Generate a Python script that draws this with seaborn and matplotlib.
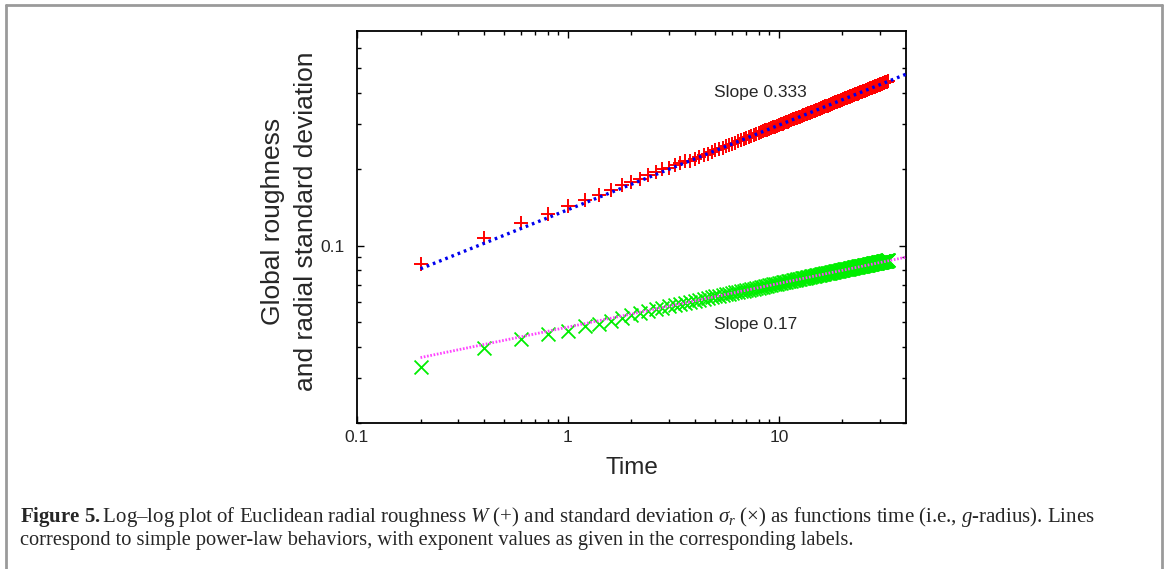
import matplotlib
matplotlib.use("Agg")
import matplotlib.pyplot as plt
import seaborn as sns
import numpy as np
import pandas as pd
from matplotlib.ticker import FixedLocator, NullFormatter
from matplotlib.lines import Line2D

# ---------------- data ----------------
time = [
    0.2, 0.4, 0.6, 0.8, 1.0, 1.2, 1.4, 1.6, 1.8, 2.0,
    2.2, 2.4, 2.6, 2.8, 3.0, 3.2, 3.4, 3.6, 3.8, 4.0,
    4.2, 4.4, 4.6, 4.8, 5.0, 5.2, 5.4, 5.6, 5.8, 6.0,
    6.2, 6.4, 6.6, 6.8, 7.0, 7.2, 7.4, 7.6, 7.8, 8.0,
    8.2, 8.4, 8.6, 8.8, 9.0, 9.2, 9.4, 9.6, 9.8, 10.0,
    10.2, 10.4, 10.6, 10.8, 11.0, 11.2, 11.4, 11.6, 11.8, 12.0,
    12.2, 12.4, 12.6, 12.8, 13.0, 13.2, 13.4, 13.6, 13.8, 14.0,
    14.2, 14.4, 14.6, 14.8, 15.0, 15.2, 15.4, 15.6, 15.8, 16.0,
    16.2, 16.4, 16.6, 16.8, 17.0, 17.2, 17.4, 17.6, 17.8, 18.0,
    18.2, 18.4, 18.6, 18.8, 19.0, 19.2, 19.4, 19.6, 19.8, 20.0,
    20.2, 20.4, 20.6, 20.8, 21.0, 21.2, 21.4, 21.6, 21.8, 22.0,
    22.2, 22.4, 22.6, 22.8, 23.0, 23.2, 23.4, 23.6, 23.8, 24.0,
    24.2, 24.4, 24.6, 24.8, 25.0, 25.2, 25.4, 25.6, 25.8, 26.0,
    26.2, 26.4, 26.6, 26.8, 27.0, 27.2, 27.4, 27.6, 27.8, 28.0,
    28.2, 28.4, 28.6, 28.8, 29.0, 29.2, 29.4, 29.6, 29.8, 30.0,
    30.2, 30.4, 30.6, 30.8, 31.0, 31.2, 31.4, 31.6, 31.8, 32.0,
    32.2, 32.4, 32.6, 32.8, 33.0,
]

# global roughness W (+)
roughness = [
    0.0847, 0.1072, 0.1225, 0.1336, 0.1429, 0.1514, 0.1585, 0.1648, 0.1725, 0.1778,
    0.1833, 0.1889, 0.1946, 0.1995, 0.2026, 0.2070, 0.2120, 0.2150,
    0.216, 0.220, 0.223, 0.227, 0.230, 0.234, 0.237, 0.240, 0.243, 0.246,
    0.249, 0.252, 0.254, 0.257, 0.260, 0.262, 0.265, 0.267, 0.270, 0.272,
    0.275, 0.277, 0.279, 0.282, 0.284, 0.286, 0.288, 0.290, 0.292, 0.294,
    0.296, 0.298, 0.300, 0.302, 0.304, 0.306, 0.308, 0.310, 0.312, 0.314,
    0.315, 0.317, 0.319, 0.321, 0.322, 0.324, 0.326, 0.327, 0.329, 0.331,
    0.332, 0.334, 0.335, 0.337, 0.338, 0.340, 0.342, 0.343, 0.345, 0.346,
    0.348, 0.349, 0.350, 0.352, 0.353, 0.355, 0.356, 0.357, 0.359, 0.360,
    0.362, 0.363, 0.364, 0.366, 0.367, 0.368, 0.370, 0.371, 0.372, 0.373,
    0.375, 0.376, 0.377, 0.378, 0.380, 0.381, 0.382, 0.383, 0.384, 0.386,
    0.387, 0.388, 0.389, 0.390, 0.392, 0.393, 0.394, 0.395, 0.396, 0.397,
    0.398, 0.399, 0.401, 0.402, 0.403, 0.404, 0.405, 0.406, 0.407, 0.408,
    0.409, 0.410, 0.411, 0.412, 0.413, 0.415, 0.416, 0.416, 0.418, 0.419,
    0.420, 0.421, 0.422, 0.423, 0.424, 0.425, 0.425, 0.426, 0.427, 0.428,
    0.429, 0.430, 0.431, 0.432, 0.433, 0.434, 0.435, 0.436, 0.437, 0.438,
    0.439, 0.440, 0.441, 0.442, 0.442, 0.443, 0.444,
]

# radial standard deviation sigma_r (x)
radial_std = [
    0.0333, 0.0396, 0.0430, 0.0447, 0.0460, 0.0481, 0.0489, 0.0505, 0.0520, 0.0532,
    0.0543, 0.0553,
    0.0562, 0.0569, 0.0576,
    0.0582, 0.0588, 0.0594, 0.0600, 0.0605,
    0.0610, 0.0615, 0.0620, 0.0625, 0.0630,
    0.0634, 0.0638, 0.0642, 0.0646, 0.0650,
    0.0654, 0.0657, 0.0661, 0.0664, 0.0668,
    0.0671, 0.0674, 0.0677, 0.0680, 0.0683,
    0.0686, 0.0689, 0.0692, 0.0695, 0.0698,
    0.0700, 0.0703, 0.0706, 0.0708, 0.0711,
    0.0713, 0.0716, 0.0718, 0.0720, 0.0722, 0.0725, 0.0727, 0.0729, 0.0732, 0.0734,
    0.0736, 0.0738, 0.0740, 0.0742, 0.0744, 0.0746, 0.0748, 0.0750, 0.0752, 0.0754,
    0.0756, 0.0758, 0.0759, 0.0761, 0.0763, 0.0765, 0.0767, 0.0768, 0.0770, 0.0772,
    0.0773, 0.0775, 0.0777, 0.0778, 0.0780, 0.0781, 0.0783, 0.0785, 0.0786, 0.0788,
    0.0789, 0.0791, 0.0792, 0.0794, 0.0795, 0.0796, 0.0798, 0.0799, 0.0801, 0.0802,
    0.0804, 0.0805, 0.0806, 0.0808, 0.0809, 0.0810, 0.0812, 0.0813, 0.0815, 0.0816,
    0.0817, 0.0818, 0.0820, 0.0821, 0.0822, 0.0823, 0.0825, 0.0826, 0.0827, 0.0828,
    0.0829, 0.0831, 0.0832, 0.0833, 0.0834, 0.0835, 0.0836, 0.0838, 0.0839, 0.0840,
    0.0841, 0.0842, 0.0843, 0.0844, 0.0845, 0.0846, 0.0847, 0.0848, 0.0850, 0.0851,
    0.0852, 0.0853, 0.0854, 0.0855, 0.0856, 0.0857, 0.0858, 0.0859, 0.0860, 0.0861,
    0.0862, 0.0863, 0.0864, 0.0865, 0.0866, 0.0867, 0.0868, 0.0869, 0.0870, 0.0871,
    0.0872, 0.0873, 0.0874, 0.0875, 0.0876,
]

# power-law guide lines (end points)
fit_time = [0.2, 40.0]
fit_roughness = [0.081, 0.473]     # slope 0.333
fit_std = [0.0362, 0.0900]         # slope 0.17

slope_labels = ["Slope 0.333", "Slope 0.17"]
x_ticks = [0.1, 1, 10]
x_tick_labels = ["0.1", "1", "10"]
y_ticks = [0.1]
y_tick_labels = ["0.1"]

df = pd.DataFrame({"time": time, "W": roughness, "sigma": radial_std})
fit_df = pd.DataFrame({"time": fit_time, "W": fit_roughness, "sigma": fit_std})

# ---------------- style ----------------
sns.set_theme(style="white")
plt.rcParams["font.family"] = ["Liberation Sans", "DejaVu Sans"]
plt.rcParams["mathtext.fontset"] = "custom"
plt.rcParams["mathtext.rm"] = "Liberation Serif"
plt.rcParams["mathtext.it"] = "Liberation Serif:italic"
plt.rcParams["mathtext.bf"] = "Liberation Serif:bold"

W_PX, H_PX = 1168, 569
fig = plt.figure(figsize=(W_PX / 100, H_PX / 100), dpi=100)
fig.patch.set_facecolor("white")

# outer frame of the figure panel
frame_kw = dict(color="#9a9a9a", lw=2)
fig.add_artist(Line2D([5.5 / W_PX, 5.5 / W_PX], [0, 1 - 5 / H_PX], **frame_kw))
fig.add_artist(Line2D([5.5 / W_PX, 1162 / W_PX], [1 - 5 / H_PX, 1 - 5 / H_PX], **frame_kw))
fig.add_artist(Line2D([1162 / W_PX, 1162 / W_PX], [0, 1 - 5 / H_PX], **frame_kw))

left, right, top, bottom = 357, 906, 31, 423
ax = fig.add_axes([left / W_PX, 1 - bottom / H_PX, (right - left) / W_PX, (bottom - top) / H_PX])
ax.set_xscale("log")
ax.set_yscale("log")

sns.scatterplot(data=df, x="time", y="W", marker="+", color="#ff0000", s=95,
                linewidth=1.4, ax=ax, zorder=2, legend=False)
sns.scatterplot(data=df, x="time", y="sigma", marker="x", color="#00ee00", s=100,
                linewidth=1.3, ax=ax, zorder=2, legend=False)
sns.lineplot(data=fit_df, x="time", y="W", color="#0000ee", estimator=None,
             linestyle=(0, (0.8, 1.2)), linewidth=2.4, ax=ax, zorder=3, legend=False)
sns.lineplot(data=fit_df, x="time", y="sigma", color="#ff44ff", estimator=None,
             linestyle=(0, (0.6, 0.6)), linewidth=2.0, ax=ax, zorder=3, legend=False)

ax.set_xlim(0.1, 40)
ax.set_ylim(0.02, 0.70)

ax.xaxis.set_major_locator(FixedLocator(x_ticks))
ax.set_xticklabels(x_tick_labels)
ax.xaxis.set_minor_locator(FixedLocator([0.2, 0.3, 0.4, 0.5, 0.6, 0.7, 0.8, 0.9,
                                         2, 3, 4, 5, 6, 7, 8, 9, 20, 30]))
ax.xaxis.set_minor_formatter(NullFormatter())
ax.yaxis.set_major_locator(FixedLocator(y_ticks))
ax.set_yticklabels(y_tick_labels)
ax.yaxis.set_minor_locator(FixedLocator([0.02, 0.03, 0.04, 0.05, 0.06, 0.07, 0.08, 0.09,
                                         0.2, 0.3, 0.4, 0.5, 0.6]))
ax.yaxis.set_minor_formatter(NullFormatter())

ax.tick_params(which="both", direction="in", top=True, right=True, bottom=True, left=True,
               color="black", width=1.0)
ax.tick_params(which="major", length=5)
ax.tick_params(which="minor", length=3)
ax.tick_params(axis="x", which="major", labelsize=12.5, pad=5)
ax.tick_params(axis="y", which="major", labelsize=12.5, pad=9)

for sp in ax.spines.values():
    sp.set_color("black")
    sp.set_linewidth(1.3)
    sp.set_visible(True)

ax.set_xlabel("Time", fontsize=17.5)
ax.xaxis.set_label_coords(0.5, -(457 - bottom) / (bottom - top))
ax.xaxis.label.set_va("top")
ax.set_ylabel("Global roughness\nand radial standard deviation", fontsize=19, linespacing=1.47)
ax.yaxis.set_label_coords(-(left - 318) / (right - left), 1 - (221 - top) / (bottom - top))

ax.text((714 - left) / (right - left), 1 - (92 - top) / (bottom - top), slope_labels[0],
        transform=ax.transAxes, ha="left", va="center", fontsize=12.5)
ax.text((714 - left) / (right - left), 1 - (324 - top) / (bottom - top), slope_labels[1],
        transform=ax.transAxes, ha="left", va="center", fontsize=12.5)

cap1 = (r"$\mathbf{Figure\ 5.}$Log–log plot of Euclidean radial roughness $W$ (+) and standard "
        r"deviation $\sigma_r$ (×) as functions time (i.e., $g$-radius). Lines")
cap2 = "correspond to simple power-law behaviors, with exponent values as given in the corresponding labels."
fig.text(20 / W_PX, 1 - 517 / H_PX, cap1, ha="left", va="center", fontsize=15,
         family=["Liberation Serif", "DejaVu Serif"])
fig.text(20 / W_PX, 1 - 541 / H_PX, cap2, ha="left", va="center", fontsize=14.7,
         family=["Liberation Serif", "DejaVu Serif"])

fig.savefig("out.png", dpi=100, facecolor="white")
